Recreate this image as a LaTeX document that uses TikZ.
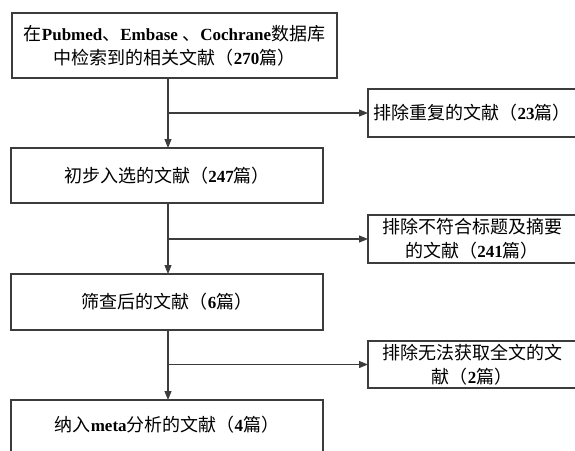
\documentclass[tikz,border=0pt]{standalone}
\usepackage{fontspec}
\setmainfont{Liberation Serif}
\newfontfamily\cjk{Noto Sans CJK SC}
\usetikzlibrary{arrows.meta}
\definecolor{linegray}{HTML}{3C3C3C}
\newcommand{\C}[1]{{\cjk #1}}
\newcommand{\B}[1]{{\fontsize{17}{24}\selectfont\bfseries #1}}
\begin{document}
\begin{tikzpicture}[x=1pt,y=-1pt,
  box/.style={draw=linegray, line width=1.1pt, rectangle, inner sep=0pt, outer sep=0pt,
    align=center, font=\fontsize{18}{24}\selectfont, text=black},
  arr/.style={draw=linegray, line width=1.1pt, -{Triangle[length=9pt,width=7pt]}},
  ln/.style={draw=linegray, line width=1.1pt}]
\useasboundingbox (0,0) rectangle (575,450);
\node[box, minimum width=325pt, minimum height=65pt] (b1) at (174.5,45.5)
  {\C{在}\B{Pubmed}\C{、}\B{Embase }\C{、}\B{Cochrane}\C{数据库}\\\C{中检索到的相关文献（}\B{270}\C{篇）}};
\node[box, minimum width=312pt, minimum height=55pt] (b2) at (167,175.5)
  {\C{初步入选的文献（}\B{247}\C{篇）}};
\node[box, minimum width=312pt, minimum height=56pt] (b3) at (167,302)
  {\C{筛查后的文献（}\B{6}\C{篇）}};
\node[box, minimum width=312pt, minimum height=58pt, text depth=0pt] (b4) at (167,429) {};
\node[font=\fontsize{18}{24}\selectfont, text=black, inner sep=0pt] (t4) at (167,425)
  {\C{纳入}\B{meta}\C{分析的文献（}\B{4}\C{篇）}};
\node[box, minimum width=208pt, minimum height=48pt] (r1) at (472,113)
  {\C{排除重复的文献（}\B{23}\C{篇）}};
\node[box, minimum width=208pt, minimum height=48pt] (r2) at (472,239)
  {\C{排除不符合标题及摘要}\\\C{的文献（}\B{241}\C{篇）}};
\node[box, minimum width=208pt, minimum height=47pt] (r3) at (472,364.5)
  {\C{排除无法获取全文的文}\\\C{献（}\B{2}\C{篇）}};
\coordinate (spine) at (168,0);
\draw[arr] (b1.south -| spine) -- (b2.north -| spine);
\draw[arr] (b2.south -| spine) -- (b3.north -| spine);
\draw[arr] (b3.south -| spine) -- (b4.north -| spine);
\draw[arr] (spine |- r1.west) -- (r1.west);
\draw[arr] (spine |- r2.west) -- (r2.west);
\draw[arr] (spine |- r3.west) -- (r3.west);
\end{tikzpicture}
\end{document}
